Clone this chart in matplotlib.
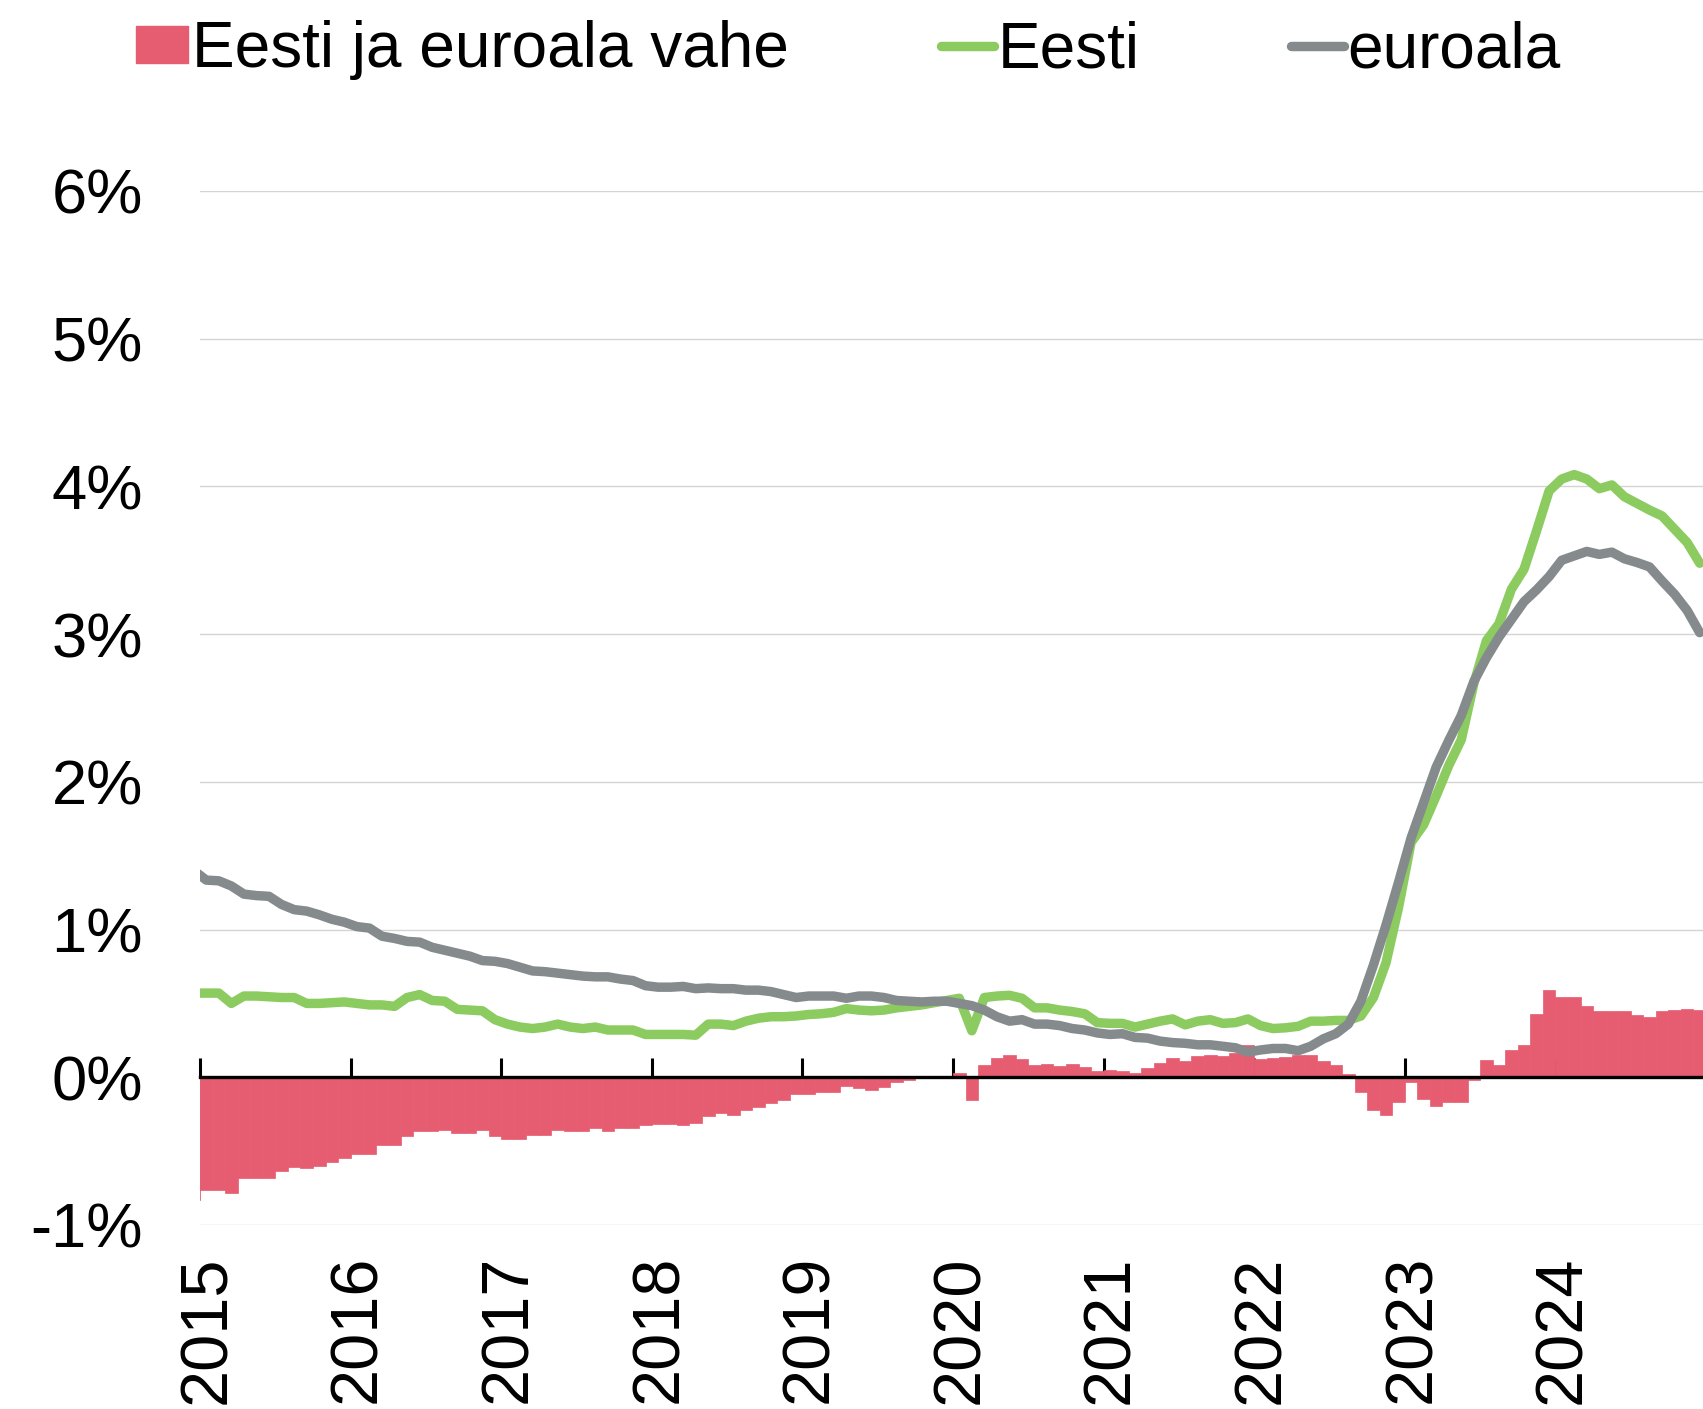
"""
Eesti ja euroala võrdlus: kaks joont ja nende vahe tulpadena
"""

import numpy as np
import matplotlib.pyplot as plt
from matplotlib.patches import Patch
from matplotlib.lines import Line2D
from matplotlib.transforms import ScaledTranslation

plt.rcParams['font.family'] = ['Liberation Sans', 'DejaVu Sans']

# kuud alates 2014-12 (esimene punkt jääb teljest vasakule) kuni 2024-12
months = np.arange(-1, 120)
years = list(range(2015, 2025))

eesti = [
    0.57,
    0.57, 0.57, 0.50, 0.55, 0.55, 0.545, 0.54, 0.54, 0.50, 0.50, 0.505, 0.51,
    0.50, 0.49, 0.49, 0.48, 0.54, 0.56, 0.52, 0.515, 0.46, 0.455, 0.45, 0.39,
    0.36, 0.34, 0.33, 0.34, 0.36, 0.34, 0.33, 0.34, 0.32, 0.32, 0.32, 0.29,
    0.29, 0.29, 0.29, 0.285, 0.36, 0.36, 0.35, 0.38, 0.40, 0.41, 0.41, 0.415,
    0.425, 0.43, 0.44, 0.465, 0.455, 0.45, 0.455, 0.47, 0.48, 0.49, 0.505, 0.52,
    0.535, 0.315, 0.54, 0.55, 0.555, 0.535, 0.47, 0.47, 0.455, 0.445, 0.43, 0.37,
    0.365, 0.365, 0.34, 0.36, 0.38, 0.395, 0.355, 0.38, 0.39, 0.365, 0.37, 0.395,
    0.35, 0.33, 0.335, 0.345, 0.38, 0.38, 0.385, 0.385, 0.415, 0.54, 0.775, 1.15,
    1.59, 1.71, 1.905, 2.11, 2.285, 2.665, 2.955, 3.07, 3.305, 3.44, 3.70, 3.97,
    4.05, 4.08, 4.05, 3.985, 4.01, 3.93, 3.885, 3.84, 3.80, 3.71, 3.62, 3.48,
]

euroala = [
    1.40,
    1.335, 1.33, 1.295, 1.24, 1.23, 1.225, 1.17, 1.135, 1.125, 1.10, 1.07, 1.05,
    1.02, 1.01, 0.955, 0.94, 0.92, 0.915, 0.88, 0.86, 0.84, 0.82, 0.79, 0.785,
    0.77, 0.745, 0.72, 0.715, 0.705, 0.695, 0.685, 0.68, 0.68, 0.665, 0.655, 0.62,
    0.61, 0.61, 0.615, 0.60, 0.605, 0.60, 0.60, 0.59, 0.59, 0.58, 0.56, 0.54,
    0.55, 0.55, 0.55, 0.535, 0.55, 0.55, 0.54, 0.52, 0.515, 0.51, 0.515, 0.515,
    0.50, 0.485, 0.455, 0.41, 0.38, 0.39, 0.36, 0.36, 0.35, 0.33, 0.32, 0.30,
    0.29, 0.295, 0.27, 0.265, 0.245, 0.235, 0.23, 0.22, 0.22, 0.21, 0.20, 0.17,
    0.185, 0.195, 0.195, 0.18, 0.21, 0.26, 0.295, 0.36, 0.515, 0.76, 1.03, 1.32,
    1.62, 1.86, 2.10, 2.28, 2.45, 2.68, 2.84, 2.98, 3.10, 3.22, 3.30, 3.39,
    3.50, 3.53, 3.56, 3.54, 3.555, 3.51, 3.485, 3.455, 3.36, 3.27, 3.16, 3.01,
]

vahe = [
    -0.83,
    -0.765, -0.765, -0.78, -0.685, -0.685, -0.685, -0.635, -0.61, -0.615, -0.60, -0.575, -0.545,
    -0.52, -0.52, -0.46, -0.46, -0.395, -0.365, -0.365, -0.36, -0.38, -0.375, -0.355, -0.40,
    -0.415, -0.415, -0.39, -0.39, -0.36, -0.365, -0.365, -0.345, -0.365, -0.345, -0.345, -0.325,
    -0.315, -0.315, -0.325, -0.31, -0.26, -0.245, -0.255, -0.22, -0.20, -0.175, -0.155, -0.11,
    -0.11, -0.10, -0.097, -0.06, -0.074, -0.085, -0.067, -0.03, -0.018, -0.005, -0.003, 0.01,
    0.03, -0.157, 0.083, 0.13, 0.153, 0.124, 0.083, 0.092, 0.074, 0.092, 0.072, 0.04,
    0.05, 0.04, 0.03, 0.063, 0.10, 0.13, 0.112, 0.142, 0.153, 0.146, 0.162, 0.22,
    0.124, 0.128, 0.135, 0.153, 0.15, 0.11, 0.08, 0.02, -0.10, -0.22, -0.255, -0.17,
    -0.03, -0.15, -0.195, -0.17, -0.165, -0.015, 0.115, 0.085, 0.185, 0.22, 0.43, 0.59,
    0.545, 0.545, 0.48, 0.45, 0.45, 0.45, 0.425, 0.41, 0.45, 0.455, 0.46, 0.455,
]

y_ticks = list(range(-1, 7))

RED = '#E65C70'
GREEN = '#8BCB5F'
GREY = '#858A8D'
LW = 6.8

W, H = 1703, 1409
fig = plt.figure(figsize=(W / 100, H / 100), dpi=100)
ax = fig.add_axes([200 / W, 1 - 1225 / H, 1 - 200 / W, (1225 - 191) / H])

# tulbad: vahe
ax.bar(months, vahe, width=1.0, align='edge', color=RED,
       edgecolor=RED, linewidth=0.5, zorder=2)

# jooned punktidega kuu keskel
x_mid = months + 0.5
ax.plot(x_mid, eesti, color=GREEN, lw=LW, solid_capstyle='round',
        solid_joinstyle='round', zorder=3)
ax.plot(x_mid, euroala, color=GREY, lw=LW, solid_capstyle='round',
        solid_joinstyle='round', zorder=4)

ax.set_xlim(0, 119.76)
ax.set_ylim(-1, 6)

# y-telg
ax.set_yticks(y_ticks)
ax.set_yticklabels([f'{v}%' for v in y_ticks])
ax.tick_params(axis='y', length=0, pad=41, labelsize=45.5)
ax.yaxis.grid(True, color='#d4d4d4', lw=1.0, zorder=0)
ax.set_axisbelow(True)

# x-telg nulljoonel, kriipsud ülespoole, aastad all
for s in ['left', 'right', 'top']:
    ax.spines[s].set_visible(False)
ax.spines['bottom'].set_position(('data', 0))
ax.spines['bottom'].set_linewidth(2.4)
ax.spines['bottom'].set_zorder(5)
ax.set_xticks([12 * i for i in range(len(years))])
ax.set_xticklabels([str(y) for y in years], rotation=90)
ax.tick_params(axis='x', direction='in', length=13.5, width=2.2,
               pad=128, labelsize=48)
shift = ScaledTranslation(8 / 100, 0, fig.dpi_scale_trans)
for lab in ax.get_xticklabels():
    lab.set_transform(lab.get_transform() + shift)

# legend
handles = [
    Patch(facecolor=RED, edgecolor=RED, label='Eesti ja euroala vahe'),
    Line2D([], [], color=GREEN, lw=LW, solid_capstyle='round', label='Eesti'),
    Line2D([], [], color=GREY, lw=LW, solid_capstyle='round', label='euroala'),
]
fig.legend(handles=handles, loc='center left', ncol=3, frameon=False,
           bbox_to_anchor=(136 / W, 1 - 50 / H), fontsize=46,
           borderpad=0, borderaxespad=0, handlelength=0.82, handleheight=0.52,
           handletextpad=0.06, columnspacing=2.38)

plt.savefig('out.png', dpi=100)
